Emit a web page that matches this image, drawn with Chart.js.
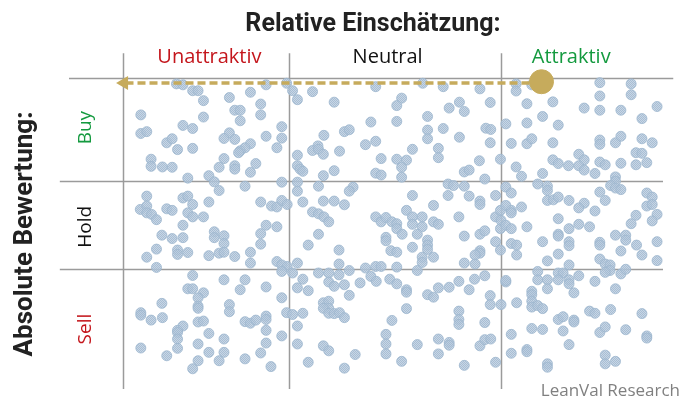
<!DOCTYPE html>
<html>
<head>
<meta charset="utf-8">
<script src="https://cdn.jsdelivr.net/npm/chart.js@4.4.1/dist/chart.umd.min.js"></script>
<style>
  html, body { margin: 0; padding: 0; background: #fff; }
  canvas { display: block; }
</style>
</head>
<body>
<canvas id="matrix" width="695" height="401"></canvas>
<script>
// x = relative score (0 = unattraktiv ... 100 = attraktiv)
// y = absolute score (0 = sell ... 100 = buy)
const colLabels = ['Unattraktiv', 'Neutral', 'Attraktiv'];
const colLabelX = [16, 49, 83];
const colColors = ['#c4161c', '#111111', '#149a3f'];

const rowLabels = ['Buy', 'Hold', 'Sell'];
const rowLabelY = [84, 52, 19];
const rowColors = ['#149a3f', '#111111', '#c4161c'];

const colBounds = [0, 30.7, 70];
const rowBounds = [38.3, 66.8, 100];

const highlight = [{ x: 77.5, y: 98.8 }];
const arrowPath = [{ x: 77.5, y: 98.4 }, { x: 0.2, y: 98.4 }];

const stocks = [
  // Unattraktiv
  [9.9,98.1],[11.1,97.8],[12.9,95.9],[13.9,95.9],[14.9,92.7],[19.7,93.7],[23.6,95.4],[26.5,97.8],[25.5,91.6],[3.3,88.1],
  [14.9,87.4],[20.7,89.6],[21.7,89.6],[21.7,86.2],[25.5,88.1],[11.1,84.7],[12.9,83.7],[3.3,82.1],[4.4,82.7],[8.1,79.1],
  [9.1,80.4],[10.1,76.9],[12.9,77.3],[19.7,82.3],[18.7,80.5],[20.7,80.2],[26.5,81.2],[29.4,84.3],[29.4,80.6],[28.5,77.5],
  [23.6,78.8],[22.6,77.5],[21.7,76.5],[21.4,75.9],[5.2,73.8],[5.2,71.5],[7.3,71.3],[9.1,71.2],[18.7,74.0],[17.8,71.2],
  [20.7,71.7],[20.7,70.6],[24.6,72.4],[23.6,69.6],[12.0,67.7],[15.9,68.5],[16.9,66.5],[22.6,65.1],[29.4,66.4],
  [17.8,63.7],[4.4,61.9],[3.2,57.6],[4.4,58.7],[4.4,56.5],[5.3,56.0],[6.2,54.3],[8.1,57.8],[9.1,57.3],[11.1,61.3],
  [12.0,61.9],[12.9,59.2],[12.0,56.5],[12.9,55.2],[14.9,55.2],[15.9,60.0],[11.1,52.5],[7.2,49.3],[9.1,48.2],[11.1,48.5],
  [16.9,50.4],[16.9,48.5],[18.7,49.1],[18.7,46.6],[25.5,60.0],[27.5,58.7],[28.5,58.4],[29.4,60.5],[30.4,59.2],[26.5,52.5],
  [28.5,52.0],[25.5,49.8],[25.5,46.4],[6.2,44.8],[4.4,42.2],[10.1,44.5],[10.1,43.1],[12.0,43.7],[15.9,42.7],[17.8,43.5],
  [18.7,43.8],[20.7,42.4],[23.6,43.8],[23.6,40.3],[28.5,40.8],[29.4,39.7],[30.4,39.2],[6.2,38.9],[29.4,37.6],
  [12.9,36.3],[18.7,34.9],[22.6,34.9],[12.0,32.0],[12.9,32.0],[14.9,30.7],[13.9,29.1],[13.9,26.4],[13.9,25.7],[21.7,31.7],
  [26.5,32.6],[29.4,29.1],[7.2,27.3],[3.3,24.3],[3.3,23.5],[5.2,21.9],[7.3,22.7],[19.7,26.9],[19.7,24.6],[13.9,21.3],
  [14.9,21.6],[11.1,20.0],[10.1,18.6],[10.1,17.9],[10.1,15.8],[15.9,17.6],[22.6,21.4],[23.6,20.9],[24.6,21.9],[26.5,23.2],
  [26.5,22.1],[26.5,18.6],[30.3,24.3],[29.4,16.8],[26.5,14.5],[25.5,11.3],[27.4,6.9],[18.7,15.8],[13.9,14.2],[3.3,12.9],
  [10.1,12.8],[8.1,10.4],[15.9,11.5],[18.7,11.5],[17.8,8.8],[13.9,8.8],[12.9,6.2],[22.6,9.4],
  // Neutral
  [30.3,98.3],[31.4,95.9],[32.3,93.0],[35.1,95.6],[39.1,92.2],[46.8,97.2],[51.6,93.5],[50.7,91.1],[55.5,98.3],[59.3,97.2],
  [66.1,96.5],[68.0,92.1],[62.3,92.2],[60.4,90.3],[63.2,89.2],[45.9,85.8],[50.7,86.0],[56.4,87.6],[56.4,83.2],[56.4,80.4],
  [59.3,83.7],[67.2,83.8],[68.1,83.4],[70.9,85.2],[62.3,80.9],[68.0,79.1],[37.2,81.5],[41.0,82.7],[41.9,83.3],[36.1,78.1],
  [35.1,76.6],[36.2,77.0],[37.1,75.4],[40.1,76.4],[32.3,75.1],[32.3,71.7],[32.8,70.6],[33.3,69.9],[44.9,78.5],[46.8,79.6],
  [47.8,74.0],[50.7,73.8],[52.5,73.5],[51.6,71.2],[53.6,77.0],[58.4,77.3],[58.4,74.3],[51.6,68.0],[46.8,69.3],[47.8,68.7],
  [39.1,70.1],[37.1,68.5],[32.3,66.4],[36.2,65.1],[66.0,73.3],[63.2,69.7],[64.1,70.3],[67.0,67.4],[69.9,73.8],[60.2,65.8],
  [61.2,65.3],[63.2,65.1],[42.6,64.8],
  [32.3,63.5],[41.9,63.5],[33.3,60.0],[37.1,60.3],[39.1,60.3],[41.0,59.1],[35.1,56.8],[36.2,56.2],[37.2,55.2],[38.1,53.6],
  [36.2,49.6],[34.3,46.1],[40.0,44.5],[53.6,62.1],[57.5,58.9],[52.5,57.3],[53.6,55.2],[55.4,55.2],[46.8,55.2],[47.8,53.6],
  [48.7,55.0],[49.8,53.6],[50.7,53.0],[50.7,51.4],[51.7,49.6],[53.6,52.8],[55.4,52.0],[57.5,53.6],[58.4,52.8],[54.5,49.6],
  [48.7,48.6],[48.7,47.5],[53.6,45.4],[56.4,47.7],[56.4,46.1],[56.4,44.7],[57.5,42.2],[55.4,42.2],[55.4,40.5],[49.6,44.3],
  [50.7,43.8],[60.2,62.1],[64.1,61.9],[66.1,60.3],[66.1,59.2],[69.0,62.1],[62.2,55.2],[63.2,49.0],[66.1,49.6],[67.0,50.7],
  [66.1,44.3],[66.1,43.5],[65.2,42.9],[63.2,40.3],[65.2,40.0],[69.0,55.2],[69.9,57.3],[69.9,51.4],[69.0,47.2],[69.9,44.5],
  [32.3,40.3],[31.4,37.1],[40.0,40.0],[41.9,37.9],[36.2,37.1],[38.1,37.1],[40.0,36.5],[44.9,38.7],[45.9,36.0],[46.8,39.2],
  [47.8,39.2],[50.7,39.0],[54.5,37.9],[33.3,35.1],[43.9,33.9],[49.4,35.1],[62.2,34.4],[65.1,35.1],[67.0,36.2],
  [32.3,32.3],[34.3,31.4],[38.1,34.2],[39.1,32.8],[41.0,33.3],[41.9,29.9],[46.9,34.4],[50.7,33.6],[52.5,31.7],[52.5,30.9],
  [37.1,27.5],[38.1,28.0],[38.1,25.7],[37.1,25.7],[38.1,24.1],[39.1,24.0],[40.1,24.3],[41.0,22.7],[31.4,23.7],[33.3,24.1],
  [32.3,20.0],[32.3,14.2],[34.3,8.3],[37.1,13.6],[38.1,12.0],[41.0,6.4],[43.0,10.8],[49.8,21.8],[48.7,17.3],[48.7,14.2],
  [48.7,11.0],[51.6,8.6],[52.5,25.6],[54.5,14.0],[56.4,30.1],[57.5,29.3],[58.4,32.3],[60.4,32.5],[64.1,31.7],[68.0,29.8],
  [68.0,26.9],[70.0,26.9],[70.9,34.2],[62.2,24.8],[62.2,22.1],[62.2,20.5],[67.0,21.1],[58.4,15.8],[60.4,14.7],[60.4,13.8],
  [58.4,11.0],[66.1,13.6],[67.0,15.6],[68.1,15.8],[63.2,7.3],[69.0,8.3],
  // Attraktiv
  [72.8,98.1],[72.8,95.8],[75.7,97.8],[74.8,91.7],[79.6,92.3],[88.3,98.5],[88.3,94.2],[88.3,89.6],[94.1,98.1],[94.1,94.6],
  [85.4,90.3],[92.2,89.6],[98.9,90.8],[74.8,85.5],[77.7,87.6],[80.6,84.8],[96.1,86.9],[71.9,78.9],[74.8,78.8],[75.7,80.4],
  [79.6,79.1],[88.3,80.0],[88.3,78.6],[91.2,79.1],[92.2,81.2],[96.1,80.4],[98.0,79.1],[72.8,71.3],[73.8,68.3],[77.7,69.2],
  [79.6,73.6],[80.6,72.4],[82.5,71.7],[84.4,75.4],[85.4,73.6],[84.4,71.7],[85.4,70.3],[87.4,69.2],[88.3,72.9],[89.3,72.0],
  [92.2,72.5],[95.0,75.9],[96.1,75.7],[95.0,72.0],[97.0,72.7],[91.2,68.1],[91.2,66.7],[90.3,65.3],[76.8,65.8],[78.6,65.1],
  [70.9,64.8],
  [78.6,63.7],[78.6,60.5],[79.7,60.7],[80.6,61.6],[82.6,60.5],[91.2,64.5],[92.2,64.0],[88.3,63.2],[89.3,60.5],[85.4,59.6],
  [84.4,58.1],[87.4,57.1],[71.9,62.9],[70.9,58.9],[71.9,57.3],[71.9,56.5],[73.8,58.4],[70.0,54.1],[70.9,52.5],[71.9,51.4],
  [74.8,52.0],[80.6,54.6],[82.6,51.4],[84.4,52.8],[86.4,52.0],[80.6,49.6],[80.6,49.0],[77.7,47.2],[82.6,47.2],[82.6,45.9],
  [71.9,46.6],[72.9,46.1],[72.9,42.9],[80.6,43.2],[78.6,41.0],[82.6,39.7],[88.3,47.0],[88.3,46.1],[91.2,49.3],[93.1,49.3],
  [93.1,47.7],[92.2,44.2],[95.1,46.1],[96.1,42.9],[98.9,47.2],[98.9,41.1],[97.0,62.9],[98.0,61.6],[97.0,58.7],[98.0,59.2],
  [98.9,56.0],[95.0,55.7],[94.1,53.0],[98.0,53.9],[88.3,41.6],[89.3,40.0],[90.2,39.7],
  [90.2,37.9],[89.3,37.3],[92.2,36.8],[93.1,38.3],[76.8,37.6],[76.8,34.9],[78.6,34.9],[80.6,37.1],[81.5,37.1],[80.6,34.9],
  [82.6,34.9],[84.4,36.2],[70.9,34.7],[87.4,34.4],[82.6,33.6],[91.2,32.0],[83.5,30.7],[78.6,32.0],[75.7,31.2],[75.7,30.1],
  [75.7,28.0],[75.7,26.1],[76.8,26.6],[77.7,25.6],[72.9,27.5],[80.6,22.1],[81.5,23.0],[83.5,21.9],[83.5,21.3],[86.4,24.8],
  [87.4,24.1],[90.3,25.3],[96.1,24.0],[75.7,19.2],[77.7,18.9],[81.5,18.4],[88.3,17.9],[89.3,19.7],[93.1,18.8],[97.0,16.8],
  [97.0,16.1],[71.9,17.3],[82.6,14.0],[74.8,12.4],[74.8,11.7],[71.9,11.2],[78.6,7.8],[78.6,6.7],[89.3,10.6],[89.3,7.8],
  [91.2,8.6]
];

// line extents beyond the plot area, in data units
const vLineSpan = [-0.3, 108];
const topLineSpan = [-10, 101.9];
const midLineSpan = [-11.7, 100];

function dotPattern() {
  const c = document.createElement('canvas');
  c.width = 2; c.height = 2;
  const g = c.getContext('2d');
  g.fillStyle = 'rgba(186,204,222,0.8)';
  g.fillRect(0, 0, 2, 2);
  g.fillStyle = 'rgba(160,184,208,0.8)';
  g.fillRect(0, 0, 1, 1);
  g.fillRect(1, 1, 1, 1);
  return g.createPattern(c, 'repeat');
}

const gridLines = {
  id: 'gridLines',
  beforeDatasetsDraw(chart) {
    const { ctx, scales: { x, y } } = chart;
    ctx.save();
    ctx.strokeStyle = '#9b9b9b';
    ctx.lineWidth = 1.5;
    const seg = (x1, y1, x2, y2) => {
      ctx.beginPath();
      ctx.moveTo(x1, y1);
      ctx.lineTo(x2, y2);
      ctx.stroke();
    };
    colBounds.forEach(v => {
      const px = Math.round(x.getPixelForValue(v)) + 0.5;
      seg(px, y.getPixelForValue(vLineSpan[1]), px, y.getPixelForValue(vLineSpan[0]));
    });
    rowBounds.forEach(v => {
      const py = Math.round(y.getPixelForValue(v)) + 0.5;
      const span = v === 100 ? topLineSpan : midLineSpan;
      seg(x.getPixelForValue(span[0]), py, x.getPixelForValue(span[1]), py);
    });
    ctx.restore();
  }
};

const labels = {
  id: 'labels',
  afterDraw(chart) {
    const { ctx, scales: { x, y } } = chart;
    ctx.save();
    ctx.textAlign = 'center';
    ctx.textBaseline = 'alphabetic';

    ctx.fillStyle = '#222';
    ctx.font = 'bold 25px Roboto';
    ctx.fillText('Relative Einschätzung:', 373, 31);

    ctx.font = '20px "Open Sans"';
    colLabels.forEach((t, i) => {
      ctx.fillStyle = colColors[i];
      ctx.fillText(t, x.getPixelForValue(colLabelX[i]), 63);
    });

    ctx.save();
    ctx.translate(32, 234);
    ctx.rotate(-Math.PI / 2);
    ctx.fillStyle = '#222';
    ctx.font = 'bold 26px Roboto';
    ctx.fillText('Absolute Bewertung:', 0, 0);
    ctx.restore();

    ctx.font = '19px "Open Sans"';
    rowLabels.forEach((t, i) => {
      ctx.save();
      ctx.translate(91, y.getPixelForValue(rowLabelY[i]));
      ctx.rotate(-Math.PI / 2);
      ctx.fillStyle = rowColors[i];
      ctx.fillText(t, 0, 0);
      ctx.restore();
    });

    ctx.fillStyle = '#808080';
    ctx.font = '17px "Open Sans"';
    ctx.textAlign = 'right';
    ctx.fillText('LeanVal Research', 680, 396);
    ctx.restore();
  }
};

const gold = '#c6ab5c';

new Chart(document.getElementById('matrix'), {
  type: 'scatter',
  data: {
    datasets: [
      {
        label: 'Highlight',
        data: highlight,
        backgroundColor: gold,
        borderColor: gold,
        pointRadius: 12,
        clip: false
      },
      {
        label: 'Pfeil',
        data: arrowPath,
        showLine: true,
        borderColor: gold,
        backgroundColor: gold,
        borderWidth: 3.5,
        borderDash: [8, 4],
        pointRadius: [0, 8],
        pointStyle: 'triangle',
        pointRotation: -90,
        pointBorderWidth: 0,
        clip: false
      },
      {
        label: 'Aktien',
        data: stocks.map(p => ({ x: p[0], y: p[1] })),
        backgroundColor: dotPattern(),
        borderColor: 'rgba(158,182,206,0.8)',
        borderWidth: 1,
        pointRadius: 5,
        clip: false
      }
    ]
  },
  options: {
    responsive: false,
    animation: false,
    layout: { padding: { left: 123, right: 32, top: 78, bottom: 10 } },
    plugins: {
      legend: { display: false },
      tooltip: { enabled: false },
      title: { display: false }
    },
    scales: {
      x: { type: 'linear', min: 0, max: 100, display: false },
      y: { type: 'linear', min: 0, max: 100, display: false }
    }
  },
  plugins: [gridLines, labels]
});
</script>
</body>
</html>
